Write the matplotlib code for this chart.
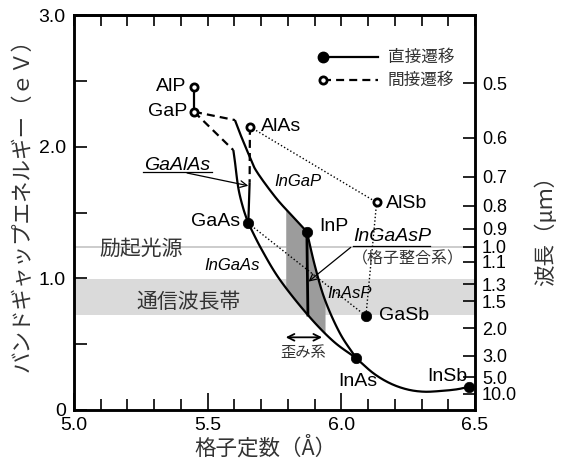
import matplotlib
matplotlib.use("Agg")
import matplotlib.pyplot as plt
import numpy as np

plt.rcParams["font.family"] = ["Liberation Sans", "Noto Sans CJK JP"]
JP = ["Noto Sans CJK JP", "DejaVu Sans"]
JP_COLOR = "#333333"

# ------------------------------------------------------------
# Data (lattice constant in angstrom, band gap in eV)
# ------------------------------------------------------------

direct_names = ["GaAs", "InP", "GaSb", "InAs", "InSb"]
direct_a = [5.652, 5.871, 6.092, 6.056, 6.478]
direct_eg = [1.418, 1.354, 0.714, 0.393, 0.177]

indirect_names = ["AlP", "GaP", "AlAs", "AlSb"]
indirect_a = [5.449, 5.449, 5.658, 6.132]
indirect_eg = [2.455, 2.265, 2.151, 1.577]

# ternary / quaternary lines
alp_gap_a = [5.449, 5.449]
alp_gap_eg = [2.455, 2.265]

gaasp_ind_a = [5.449, 5.596]
gaasp_ind_eg = [2.265, 1.974]
gaasp_dir_a = [5.596, 5.602, 5.615, 5.633, 5.652]
gaasp_dir_eg = [1.974, 1.885, 1.683, 1.532, 1.418]

algaas_ind_a = [5.658, 5.657]
algaas_ind_eg = [2.151, 1.73]
algaas_dir_a = [5.657, 5.652]
algaas_dir_eg = [1.73, 1.418]

ingap_ind_a = [5.449, 5.602]
ingap_ind_eg = [2.265, 2.202]
ingap_dir_a = [5.602, 5.621, 5.658, 5.684, 5.755, 5.817, 5.871]
ingap_dir_eg = [2.202, 2.100, 1.920, 1.809, 1.612, 1.472, 1.354]

ingaas_a = [5.652, 5.703, 5.771, 5.875, 5.969, 6.056]
ingaas_eg = [1.418, 1.215, 0.987, 0.721, 0.524, 0.393]

inasp_a = [5.871, 5.902, 5.939, 5.995, 6.056]
inasp_eg = [1.354, 1.088, 0.835, 0.582, 0.393]

inassb_a = [6.056, 6.120, 6.182, 6.245, 6.307, 6.369, 6.432, 6.478]
inassb_eg = [0.393, 0.279, 0.203, 0.157, 0.139, 0.144, 0.157, 0.177]

ingaasp_a = [5.871, 5.875]
ingaasp_eg = [1.354, 0.721]

dotted_pairs = [("AlAs", "AlSb"), ("AlSb", "GaSb"), ("GaAs", "GaSb")]

strain_a = [5.792, 5.939]
telecom_um = [1.25, 1.72]
excite_um = 1.0

wl_ticks = [0.5, 0.6, 0.7, 0.8, 0.9, 1.0, 1.1, 1.3, 1.5, 2.0, 3.0, 5.0, 10.0]
HC = 1.24  # eV * um


# ------------------------------------------------------------
# Utilities
# ------------------------------------------------------------

def smooth(xs, ys, n=24):
    pts = np.column_stack([xs, ys]).astype(float)
    if len(pts) < 3:
        return pts[:, 0], pts[:, 1]
    p = np.vstack([2 * pts[0] - pts[1], pts, 2 * pts[-1] - pts[-2]])
    t = np.linspace(0, 1, n, endpoint=False)[:, None]
    out = []
    for i in range(1, len(p) - 2):
        p0, p1, p2, p3 = p[i - 1], p[i], p[i + 1], p[i + 2]
        seg = 0.5 * (2 * p1 + (-p0 + p2) * t
                     + (2 * p0 - 5 * p1 + 4 * p2 - p3) * t ** 2
                     + (-p0 + 3 * p1 - 3 * p2 + p3) * t ** 3)
        out.append(seg)
    out.append(pts[-1:])
    out = np.vstack(out)
    return out[:, 0], out[:, 1]


LW = 1.6
DASH = (0, (3.6, 2.3))
DOT = (0, (1, 1.6))

fig = plt.figure(figsize=(5.62, 4.68), dpi=100)
ax = fig.add_axes([74 / 562, 58 / 468, 401 / 562, 395 / 468])

# bands
ax.axhspan(HC / telecom_um[1], HC / telecom_um[0], color="#dadada", lw=0, zorder=0)
ax.axhline(HC / excite_um, color="#c4c4c4", lw=1.2, zorder=0.5)

# strained region
sx_top, sy_top = smooth(ingap_dir_a, ingap_dir_eg)
px_top, py_top = smooth(inasp_a, inasp_eg)
bx, by = smooth(ingaas_a, ingaas_eg)
gx = np.linspace(strain_a[0], strain_a[1], 120)
top = np.where(gx <= ingap_dir_a[-1],
               np.interp(gx, sx_top, sy_top),
               np.interp(gx, px_top, py_top))
bot = np.interp(gx, bx, by)
ax.fill_between(gx, bot, top, color="#9c9c9c", lw=0, zorder=1)

# curves
for xs, ys, ls in [
    (alp_gap_a, alp_gap_eg, "-"),
    (gaasp_ind_a, gaasp_ind_eg, DASH),
    (gaasp_dir_a, gaasp_dir_eg, "-"),
    (algaas_ind_a, algaas_ind_eg, DASH),
    (algaas_dir_a, algaas_dir_eg, "-"),
    (ingap_ind_a, ingap_ind_eg, DASH),
    (ingap_dir_a, ingap_dir_eg, "-"),
    (ingaas_a, ingaas_eg, "-"),
    (inasp_a, inasp_eg, "-"),
    (inassb_a, inassb_eg, "-"),
]:
    cx, cy = smooth(xs, ys)
    ax.plot(cx, cy, color="black", lw=LW, ls=ls, zorder=3,
            solid_capstyle="butt", dash_capstyle="butt")

ax.plot(ingaasp_a, ingaasp_eg, color="black", lw=2.0, zorder=3)

pos = {n: (a, e) for n, a, e in zip(direct_names, direct_a, direct_eg)}
pos.update({n: (a, e) for n, a, e in zip(indirect_names, indirect_a, indirect_eg)})
for p, q in dotted_pairs:
    ax.plot([pos[p][0], pos[q][0]], [pos[p][1], pos[q][1]],
            color="black", lw=1.0, ls=DOT, zorder=2)

# markers
ax.plot(direct_a, direct_eg, "o", ms=7.5, color="black", mew=0.5,
        zorder=5, clip_on=False)
ax.plot(indirect_a, indirect_eg, "o", ms=5.2, mfc="white", mec="black",
        mew=2.0, zorder=5, clip_on=False)

# compound labels
FS = 14
ax.text(5.419, 2.455, "AlP", fontsize=FS, ha="right", va="center")
ax.text(5.425, 2.265, "GaP", fontsize=FS, ha="right", va="center")
ax.text(5.700, 2.151, "AlAs", fontsize=FS, ha="left", va="center")
ax.text(6.168, 1.569, "AlSb", fontsize=FS, ha="left", va="center")
ax.text(5.621, 1.430, "GaAs", fontsize=FS, ha="right", va="center")
ax.text(5.918, 1.392, "InP", fontsize=FS, ha="left", va="center")
ax.text(6.140, 0.721, "GaSb", fontsize=FS, ha="left", va="center")
ax.text(6.062, 0.215, "InAs", fontsize=FS, ha="center", va="center")
ax.text(6.395, 0.253, "InSb", fontsize=FS, ha="center", va="center")

# alloy labels
ax.text(5.836, 1.739, "InGaP", fontsize=12, style="italic", ha="center", va="center")
ax.text(5.590, 1.100, "InGaAs", fontsize=12, style="italic", ha="center", va="center")
ax.text(6.030, 0.885, "InAsP", fontsize=12, style="italic", ha="center", va="center")

ax.text(5.387, 1.855, "GaAlAs", fontsize=14, style="italic", ha="center", va="center")
ax.plot([5.258, 5.516], [1.805, 1.805], color="black", lw=0.9, zorder=4)
ax.annotate("", xy=(5.652, 1.703), xytext=(5.423, 1.800),
            arrowprops=dict(arrowstyle="->", lw=0.9, color="black",
                            shrinkA=0, shrinkB=0, mutation_scale=12))

ax.text(6.190, 1.321, "InGaAsP", fontsize=14, style="italic", ha="center", va="center")
ax.plot([6.044, 6.332], [1.245, 1.245], color="black", lw=0.9, zorder=4)
ax.text(6.250, 1.147, "（格子整合系）", fontsize=11.5, family=JP, color=JP_COLOR,
        ha="center", va="center")
ax.annotate("", xy=(5.877, 0.975), xytext=(6.035, 1.235),
            arrowprops=dict(arrowstyle="->", lw=0.9, color="black",
                            shrinkA=0, shrinkB=0, mutation_scale=12))

ax.text(5.250, 1.225, "励起光源", fontsize=15, family=JP, color=JP_COLOR,
        ha="center", va="center")
ax.text(5.428, 0.822, "通信波長帯", fontsize=15, family=JP, color=JP_COLOR,
        ha="center", va="center")

ax.annotate("", xy=(strain_a[0], 0.552), xytext=(5.928, 0.552),
            arrowprops=dict(arrowstyle="<->", lw=1.3, color="black",
                            shrinkA=0, shrinkB=0, mutation_scale=12))
ax.text(5.859, 0.433, "歪み系", fontsize=11, family=JP, color=JP_COLOR,
        ha="center", va="center")

# legend
ax.plot([0.621, 0.758], [0.894, 0.894], transform=ax.transAxes,
        color="black", lw=LW, clip_on=False)
ax.plot([0.621], [0.894], "o", transform=ax.transAxes, ms=7.5,
        color="black", clip_on=False)
ax.plot([0.621, 0.758], [0.835, 0.835], transform=ax.transAxes,
        color="black", lw=LW, ls=DASH, clip_on=False)
ax.plot([0.621], [0.835], "o", transform=ax.transAxes, ms=5.2,
        mfc="white", mec="black", mew=2.0, clip_on=False)
ax.text(0.783, 0.894, "直接遷移", transform=ax.transAxes, fontsize=12,
        family=JP, color=JP_COLOR, va="center")
ax.text(0.783, 0.835, "間接遷移", transform=ax.transAxes, fontsize=12,
        family=JP, color=JP_COLOR, va="center")

# axes
ax.set_xlim(5.0, 6.5)
ax.set_ylim(0, 3.0)
ax.set_xticks([5.0, 5.5, 6.0, 6.5])
ax.set_xticklabels(["5.0", "5.5", "6.0", "6.5"])
ax.set_xticks(np.arange(5.0, 6.51, 0.1), minor=True)
ax.set_yticks([0, 1, 2, 3])
ax.set_yticklabels(["0", "1.0", "2.0", "3.0"])
ax.set_yticks([0.5, 1.5, 2.5], minor=True)
ax.tick_params(axis="x", which="major", direction="in", length=12, width=1.2,
               labelsize=14, pad=5)
ax.tick_params(axis="x", which="minor", direction="in", length=8, width=1.2)
ax.tick_params(axis="y", which="both", direction="in", length=9, width=1.2,
               labelsize=14, pad=6, right=False)
for s in ax.spines.values():
    s.set_linewidth(1.8)

sec = ax.secondary_xaxis("top")
sec.set_xticks(np.arange(5.0, 6.51, 0.1))
sec.tick_params(direction="in", length=8, width=1.2, labeltop=False)
sec.spines["top"].set_linewidth(1.8)

ax2 = ax.twinx()
ax2.set_ylim(0, 3.0)
ax2.set_yticks([HC / w for w in wl_ticks])
ax2.set_yticklabels([f"{w:.1f}" for w in wl_ticks])
ax2.tick_params(direction="in", length=9, width=1.2, labelsize=13, pad=5)
for s in ax2.spines.values():
    s.set_linewidth(1.8)

ax.set_xlabel("格子定数（Å）", fontsize=15.5, family=JP, color=JP_COLOR)
ax.xaxis.set_label_coords(0.478, -0.066)
ax.set_ylabel("バンドギャップエネルギー（ｅＶ）", fontsize=15.5, family=JP,
              color=JP_COLOR)
ax.yaxis.set_label_coords(-0.10, 0.532)
ax2.set_ylabel("波長（μｍ）", fontsize=15.5, family=JP, color=JP_COLOR,
               rotation=90)
ax2.yaxis.set_label_coords(1.150, 0.468)

fig.savefig("out.png", dpi=100)
